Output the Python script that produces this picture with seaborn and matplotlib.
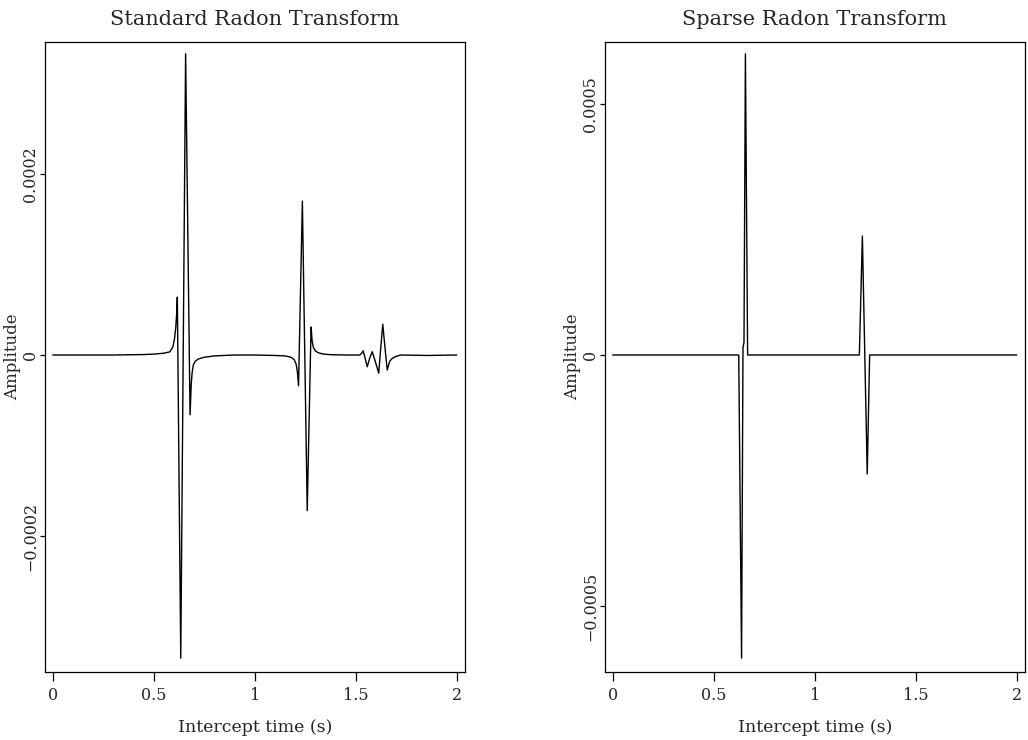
import matplotlib
matplotlib.use("Agg")
import matplotlib.pyplot as plt
import seaborn as sns
import pandas as pd

# ---------------- data ----------------
titles = ["Standard Radon Transform", "Sparse Radon Transform"]
x_label = "Intercept time (s)"
y_label = "Amplitude"

x_ticks = [0, 0.5, 1, 1.5, 2]
x_tick_labels = ["0", "0.5", "1", "1.5", "2"]

std_y_ticks = [-0.0002, 0.0, 0.0002]
std_y_tick_labels = ["\u22120.0002", "0", "0.0002"]
sparse_y_ticks = [-0.0005, 0.0, 0.0005]
sparse_y_tick_labels = ["\u22120.0005", "0", "0.0005"]

# Standard Radon transform trace (time s, amplitude)
std_time = [0.000, 0.300, 0.450, 0.500, 0.550, 0.580, 0.595, 0.603, 0.609,
            0.614, 0.617, 0.634, 0.658, 0.680, 0.686, 0.690, 0.696, 0.705,
            0.720, 0.750, 0.800, 0.900, 1.000, 1.100, 1.150, 1.180, 1.195,
            1.205, 1.211, 1.217, 1.236, 1.260, 1.279, 1.284, 1.290, 1.300,
            1.315, 1.340, 1.380, 1.450, 1.520, 1.530, 1.537, 1.547, 1.557,
            1.570, 1.582, 1.598, 1.614, 1.624, 1.634, 1.645, 1.656, 1.668,
            1.681, 1.700, 1.722, 1.850, 2.000]
std_amp = [0.0, 0.0, 0.5e-6, 1.0e-6, 2.0e-6, 3.5e-6, 9.0e-6, 1.8e-5, 3.0e-5,
           4.6e-5, 6.4e-5, -3.35e-4, 3.33e-4, -6.6e-5, -3.2e-5, -2.0e-5, -1.1e-5, -7.0e-6,
           -4.5e-6, -2.5e-6, -1.0e-6, 0.0, 0.0, -0.5e-6, -1.0e-6, -2.5e-6, -5.0e-6,
           -1.0e-5, -1.8e-5, -3.4e-5, 1.70e-4, -1.72e-4, 3.1e-5, 1.6e-5, 8.5e-6, 4.5e-6,
           2.5e-6, 1.0e-6, 0.3e-6, 0.0, 0.0, 2.0e-6, 4.7e-6, -4.0e-6, -1.3e-5,
           -3.0e-6, 3.6e-6, -8.0e-6, -2.0e-5, 8.0e-6, 3.4e-5, 8.0e-6, -1.66e-5, -7.0e-6,
           -3.7e-6, -1.5e-6, 0.0, -0.5e-6, 0.0]

# Sparse Radon transform trace (time s, amplitude)
sparse_time = [0.000, 0.624, 0.638, 0.645, 0.650, 0.657, 0.668, 1.221, 1.236,
               1.260, 1.272, 2.000]
sparse_amp = [0.0, 0.0, -6.04e-4, 1.5e-5, 2.5e-5, 6.0e-4, 0.0, 0.0, 2.37e-4,
              -2.37e-4, 0.0, 0.0]

# ---------------- plotting ----------------
sns.set_style("ticks")
plt.rcParams["font.family"] = ["DejaVu Serif"]

fig = plt.figure(figsize=(10.28, 7.40), dpi=100)
W, H = 1028.0, 740.0
ax_std = fig.add_axes([45 / W, (H - 672) / H, 420 / W, 630 / H])
ax_sp = fig.add_axes([605 / W, (H - 672) / H, 420 / W, 630 / H])

std_df = pd.DataFrame({"t": std_time, "a": std_amp})
sp_df = pd.DataFrame({"t": sparse_time, "a": sparse_amp})

sns.lineplot(data=std_df, x="t", y="a", ax=ax_std, color="black", linewidth=1.0,
             estimator=None, sort=False)
sns.lineplot(data=sp_df, x="t", y="a", ax=ax_sp, color="black", linewidth=1.0,
             estimator=None, sort=False)

configs = [
    (ax_std, titles[0], std_y_ticks, std_y_tick_labels, (-3.503e-4, 3.459e-4)),
    (ax_sp, titles[1], sparse_y_ticks, sparse_y_tick_labels, (-6.315e-4, 6.235e-4)),
]
for ax, title, yt, ytl, ylim in configs:
    ax.set_xlim(-0.038, 2.041)
    ax.set_ylim(*ylim)
    ax.set_xticks(x_ticks)
    ax.set_xticklabels(x_tick_labels, fontsize=11.5)
    ax.set_yticks(yt)
    ax.set_yticklabels(ytl, fontsize=11.5, rotation=90, va="center")
    ax.tick_params(axis="x", direction="out", length=6.5, width=0.9, pad=4, color="black")
    ax.tick_params(axis="y", direction="out", length=3.5, width=0.9, pad=0.5, color="black")
    ax.set_xlabel(x_label, fontsize=12.5, labelpad=11)
    ax.set_ylabel(y_label, fontsize=12)
    ax.yaxis.set_label_coords(-0.057, 0.5)
    ax.set_title(title, fontsize=15, pad=12)
    for s in ax.spines.values():
        s.set_visible(True)
        s.set_linewidth(0.9)
        s.set_color("black")

fig.savefig("out.png", dpi=100, facecolor="white")
